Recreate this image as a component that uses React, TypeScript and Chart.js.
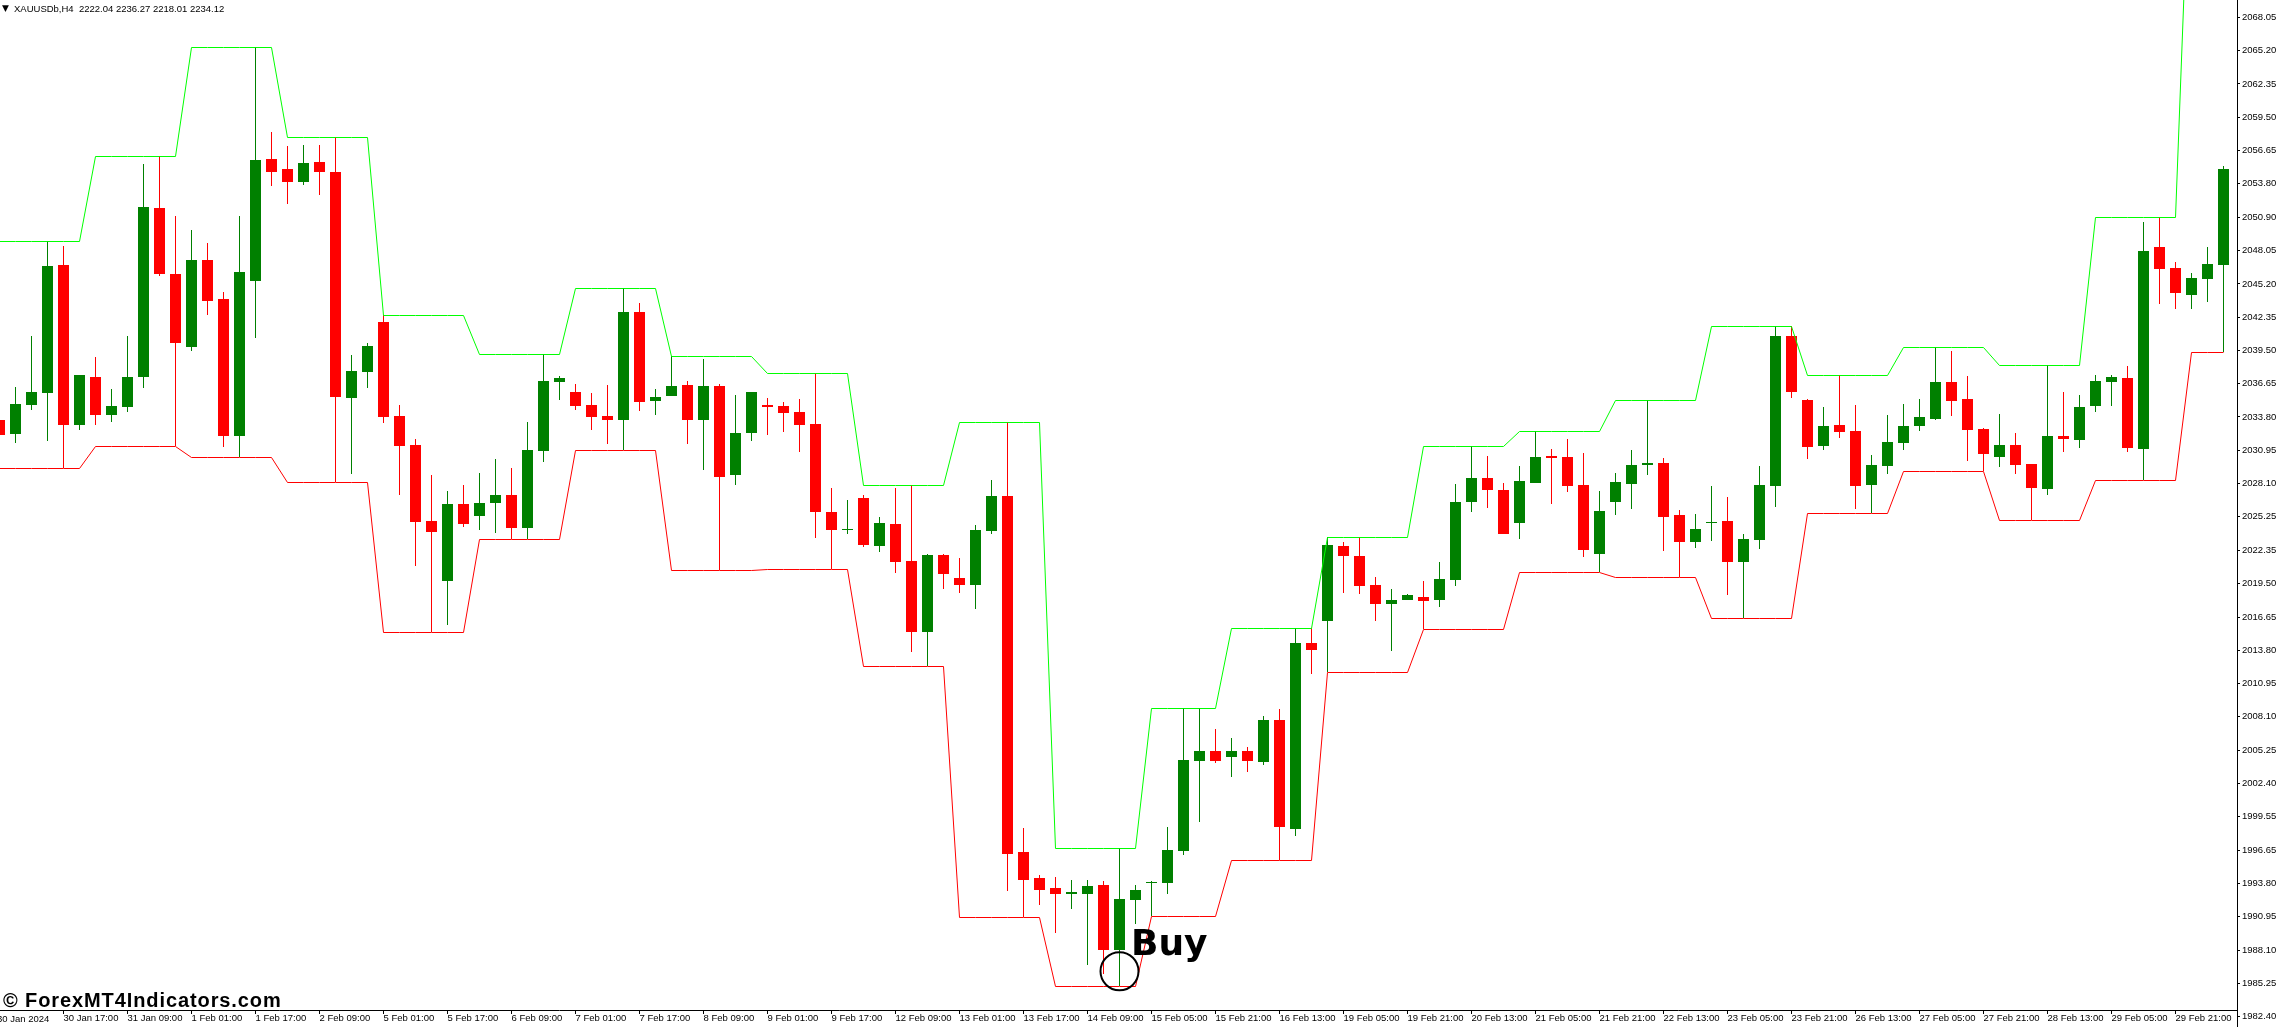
import React, { useEffect, useRef } from "react";
import { Chart, registerables } from "chart.js";

Chart.register(...registerables);

const opens = [
  2033.54, 2032.34, 2034.83, 2035.85, 2046.83, 2033.11, 2037.23, 2033.97, 2034.65, 2037.23,
  2051.71, 2046.05, 2039.80, 2047.25, 2043.91, 2032.17, 2045.45, 2055.91, 2055.05, 2053.94,
  2055.65, 2054.80, 2035.43, 2037.65, 2041.94, 2033.88, 2031.40, 2024.88, 2019.74, 2026.34,
  2025.31, 2026.43, 2027.11, 2024.28, 2030.88, 2036.80, 2035.94, 2034.83, 2033.88, 2033.54,
  2042.80, 2035.17, 2035.60, 2036.54, 2033.54, 2036.45, 2028.83, 2032.43, 2034.83, 2034.74,
  2034.23, 2033.20, 2025.65, 2024.11, 2026.85, 2022.74, 2024.63, 2021.45, 2015.37, 2021.97,
  2020.00, 2019.40, 2024.03, 2027.03, 1996.51, 1994.28, 1993.43, 1992.91, 1992.91, 1993.68,
  1988.11, 1992.40, 1993.85, 1993.85, 1996.60, 2004.31, 2005.17, 2004.65, 2005.17, 2004.23,
  2007.83, 1998.48, 2014.43, 2016.31, 2022.74, 2021.88, 2019.40, 2017.77, 2018.11, 2018.37,
  2018.11, 2019.83, 2026.51, 2028.57, 2027.54, 2024.71, 2028.14, 2030.45, 2030.37, 2027.97,
  2022.05, 2026.51, 2028.05, 2029.68, 2029.85, 2025.40, 2023.08, 2024.71, 2024.88, 2021.37,
  2023.25, 2027.88, 2040.74, 2035.25, 2031.31, 2033.11, 2032.60, 2027.97, 2029.60, 2031.57,
  2033.03, 2033.63, 2036.80, 2035.34, 2032.77, 2030.37, 2031.40, 2029.77, 2027.63, 2032.17,
  2031.83, 2034.74, 2036.80, 2037.14, 2031.05, 2048.37, 2046.57, 2044.25, 2045.63, 2046.83,
];

const closes = [
  2032.25, 2034.91, 2035.94, 2046.74, 2033.11, 2037.40, 2033.97, 2034.74, 2037.23, 2051.80,
  2046.05, 2040.14, 2047.25, 2043.74, 2032.17, 2046.23, 2055.83, 2054.80, 2053.94, 2055.57,
  2054.80, 2035.51, 2037.74, 2039.88, 2033.80, 2031.31, 2024.80, 2023.94, 2026.34, 2024.63,
  2026.43, 2027.11, 2024.28, 2030.97, 2036.88, 2037.14, 2034.74, 2033.80, 2033.54, 2042.80,
  2035.08, 2035.51, 2036.45, 2033.54, 2036.45, 2028.65, 2032.43, 2035.94, 2034.65, 2034.14,
  2033.11, 2025.65, 2024.11, 2024.23, 2022.85, 2024.71, 2021.37, 2015.37, 2021.97, 2020.34,
  2019.40, 2024.11, 2027.03, 1996.34, 1994.11, 1993.25, 1992.91, 1993.08, 1993.60, 1988.11,
  1992.48, 1993.25, 1993.97, 1996.68, 2004.40, 2005.17, 2004.31, 2005.17, 2004.31, 2007.83,
  1998.65, 2014.43, 2013.83, 2022.83, 2021.88, 2019.31, 2017.77, 2018.11, 2018.54, 2018.03,
  2019.91, 2026.51, 2028.57, 2027.54, 2023.77, 2028.31, 2030.37, 2030.28, 2027.88, 2022.40,
  2025.74, 2028.23, 2029.68, 2029.85, 2025.23, 2023.08, 2024.20, 2024.80, 2021.37, 2023.34,
  2027.97, 2040.74, 2035.94, 2031.23, 2033.03, 2032.51, 2027.88, 2029.68, 2031.65, 2033.03,
  2033.80, 2036.80, 2035.17, 2032.68, 2030.63, 2031.40, 2029.68, 2027.71, 2032.17, 2031.91,
  2034.65, 2036.88, 2037.23, 2031.14, 2048.03, 2046.48, 2044.43, 2045.71, 2046.91, 2055.05,
];

const highs = [
  2034.25, 2036.37, 2040.74, 2048.85, 2048.45, 2037.40, 2038.94, 2036.20, 2040.74, 2055.48,
  2056.14, 2051.03, 2049.83, 2048.71, 2044.51, 2051.03, 2065.48, 2058.23, 2057.03, 2057.11,
  2057.11, 2057.77, 2039.11, 2040.14, 2042.51, 2034.83, 2031.91, 2028.83, 2027.45, 2027.97,
  2029.00, 2030.20, 2029.43, 2033.37, 2039.17, 2037.31, 2036.63, 2035.85, 2036.54, 2044.83,
  2043.57, 2036.20, 2039.00, 2036.88, 2038.77, 2036.63, 2035.68, 2035.94, 2035.43, 2035.08,
  2035.34, 2037.54, 2027.71, 2026.68, 2027.11, 2025.23, 2027.71, 2027.94, 2022.05, 2022.05,
  2021.71, 2024.54, 2028.40, 2033.34, 1998.57, 1994.54, 1994.37, 1994.11, 1994.11, 1994.03,
  1996.83, 1993.68, 1994.03, 1998.65, 2008.83, 2008.83, 2007.05, 2006.28, 2005.51, 2008.17,
  2008.77, 2015.68, 2015.68, 2023.48, 2023.08, 2023.48, 2020.08, 2019.05, 2018.63, 2019.74,
  2021.37, 2028.05, 2031.28, 2030.45, 2028.14, 2029.60, 2032.57, 2031.05, 2031.91, 2030.71,
  2027.45, 2029.00, 2030.97, 2035.25, 2030.28, 2025.83, 2025.48, 2027.88, 2026.94, 2023.77,
  2029.60, 2041.57, 2041.57, 2035.34, 2034.65, 2037.37, 2034.83, 2030.54, 2033.97, 2034.91,
  2035.34, 2039.77, 2039.45, 2037.31, 2032.85, 2034.05, 2032.43, 2029.77, 2038.23, 2035.94,
  2035.68, 2037.40, 2037.40, 2038.17, 2050.51, 2050.91, 2047.08, 2046.14, 2048.37, 2055.31,
];

const lows = [
  2031.54, 2031.57, 2034.40, 2031.74, 2029.40, 2032.68, 2033.11, 2033.37, 2034.23, 2036.28,
  2045.88, 2031.28, 2039.45, 2042.54, 2031.23, 2030.34, 2040.57, 2053.60, 2052.05, 2053.68,
  2052.83, 2028.20, 2028.91, 2036.28, 2033.28, 2027.11, 2021.03, 2015.34, 2015.97, 2024.37,
  2024.11, 2023.85, 2023.31, 2023.31, 2029.94, 2035.25, 2034.40, 2032.68, 2031.48, 2030.94,
  2034.31, 2033.97, 2035.60, 2031.48, 2029.25, 2020.65, 2027.97, 2031.74, 2032.25, 2032.51,
  2030.80, 2023.43, 2020.74, 2023.80, 2022.65, 2022.23, 2020.43, 2013.65, 2012.43, 2019.05,
  2018.71, 2017.34, 2023.77, 1993.17, 1990.91, 1991.97, 1989.57, 1991.63, 1986.83, 1986.08,
  1985.00, 1990.34, 1991.00, 1992.91, 1996.25, 1999.08, 2004.14, 2002.94, 2003.37, 2003.97,
  1995.80, 1997.88, 2011.77, 2011.91, 2018.71, 2018.63, 2016.31, 2013.74, 2018.11, 2015.60,
  2017.51, 2019.31, 2025.65, 2026.00, 2023.77, 2023.34, 2028.14, 2026.34, 2027.37, 2021.80,
  2020.48, 2025.40, 2025.91, 2028.83, 2022.31, 2020.05, 2022.57, 2023.17, 2018.54, 2016.54,
  2022.48, 2026.08, 2035.43, 2030.20, 2030.97, 2032.00, 2025.91, 2025.54, 2028.91, 2030.97,
  2032.60, 2033.54, 2033.88, 2030.03, 2029.14, 2029.51, 2028.91, 2024.94, 2027.11, 2030.80,
  2031.14, 2034.23, 2034.74, 2030.80, 2028.37, 2043.48, 2043.05, 2043.05, 2043.65, 2039.34,
];

const upperBand = [
  2048.85, 2048.85, 2048.85, 2048.85, 2048.85, 2048.85, 2056.14, 2056.14, 2056.14, 2056.14,
  2056.14, 2056.14, 2065.48, 2065.48, 2065.48, 2065.48, 2065.48, 2065.48, 2057.77, 2057.77,
  2057.77, 2057.77, 2057.77, 2057.77, 2042.51, 2042.51, 2042.51, 2042.51, 2042.51, 2042.51,
  2039.17, 2039.17, 2039.17, 2039.17, 2039.17, 2039.17, 2044.83, 2044.83, 2044.83, 2044.83,
  2044.83, 2044.83, 2039.00, 2039.00, 2039.00, 2039.00, 2039.00, 2039.00, 2037.54, 2037.54,
  2037.54, 2037.54, 2037.54, 2037.54, 2027.94, 2027.94, 2027.94, 2027.94, 2027.94, 2027.94,
  2033.34, 2033.34, 2033.34, 2033.34, 2033.34, 2033.34, 1996.83, 1996.83, 1996.83, 1996.83,
  1996.83, 1996.83, 2008.83, 2008.83, 2008.83, 2008.83, 2008.83, 2015.68, 2015.68, 2015.68,
  2015.68, 2015.68, 2015.68, 2023.48, 2023.48, 2023.48, 2023.48, 2023.48, 2023.48, 2031.28,
  2031.28, 2031.28, 2031.28, 2031.28, 2031.28, 2032.57, 2032.57, 2032.57, 2032.57, 2032.57,
  2032.57, 2035.25, 2035.25, 2035.25, 2035.25, 2035.25, 2035.25, 2041.57, 2041.57, 2041.57,
  2041.57, 2041.57, 2041.57, 2037.37, 2037.37, 2037.37, 2037.37, 2037.37, 2037.37, 2039.77,
  2039.77, 2039.77, 2039.77, 2039.77, 2039.77, 2038.23, 2038.23, 2038.23, 2038.23, 2038.23,
  2038.23, 2050.91, 2050.91, 2050.91, 2050.91, 2050.91, 2050.91, 2087.00, 2087.00, 2087.00,
];

const lowerBand = [
  2029.40, 2029.40, 2029.40, 2029.40, 2029.40, 2029.40, 2031.28, 2031.28, 2031.28, 2031.28,
  2031.28, 2031.28, 2030.34, 2030.34, 2030.34, 2030.34, 2030.34, 2030.34, 2028.20, 2028.20,
  2028.20, 2028.20, 2028.20, 2028.20, 2015.34, 2015.34, 2015.34, 2015.34, 2015.34, 2015.34,
  2023.31, 2023.31, 2023.31, 2023.31, 2023.31, 2023.31, 2030.94, 2030.94, 2030.94, 2030.94,
  2030.94, 2030.94, 2020.65, 2020.65, 2020.65, 2020.65, 2020.65, 2020.65, 2020.74, 2020.74,
  2020.74, 2020.74, 2020.74, 2020.74, 2012.43, 2012.43, 2012.43, 2012.43, 2012.43, 2012.43,
  1990.91, 1990.91, 1990.91, 1990.91, 1990.91, 1990.91, 1985.00, 1985.00, 1985.00, 1985.00,
  1985.00, 1985.00, 1991.00, 1991.00, 1991.00, 1991.00, 1991.00, 1995.80, 1995.80, 1995.80,
  1995.80, 1995.80, 1995.80, 2011.91, 2011.91, 2011.91, 2011.91, 2011.91, 2011.91, 2015.60,
  2015.60, 2015.60, 2015.60, 2015.60, 2015.60, 2020.48, 2020.48, 2020.48, 2020.48, 2020.48,
  2020.48, 2020.05, 2020.05, 2020.05, 2020.05, 2020.05, 2020.05, 2016.54, 2016.54, 2016.54,
  2016.54, 2016.54, 2016.54, 2025.54, 2025.54, 2025.54, 2025.54, 2025.54, 2025.54, 2029.14,
  2029.14, 2029.14, 2029.14, 2029.14, 2029.14, 2024.94, 2024.94, 2024.94, 2024.94, 2024.94,
  2024.94, 2028.37, 2028.37, 2028.37, 2028.37, 2028.37, 2028.37, 2039.34, 2039.34, 2039.34,
];

const priceTicks = [
  2068.05, 2065.2, 2062.35, 2059.5, 2056.65, 2053.8, 2050.9, 2048.05, 2045.2, 2042.35, 2039.5,
  2036.65, 2033.8, 2030.95, 2028.1, 2025.25, 2022.35, 2019.5, 2016.65, 2013.8, 2010.95, 2008.1,
  2005.25, 2002.4, 1999.55, 1996.65, 1993.8, 1990.95, 1988.1, 1985.25, 1982.4,
];

const timeTickBars = [
  4, 8, 12, 16, 20, 24, 28, 32, 36, 40, 44, 48, 52, 56, 60, 64, 68, 72, 76, 80, 84, 88, 92, 96,
  100, 104, 108, 112, 116, 120, 124, 128, 132, 136,
];

const timeTickLabels = [
  "30 Jan 17:00", "31 Jan 09:00", "1 Feb 01:00", "1 Feb 17:00", "2 Feb 09:00", "5 Feb 01:00",
  "5 Feb 17:00", "6 Feb 09:00", "7 Feb 01:00", "7 Feb 17:00", "8 Feb 09:00", "9 Feb 01:00",
  "9 Feb 17:00", "12 Feb 09:00", "13 Feb 01:00", "13 Feb 17:00", "14 Feb 09:00", "15 Feb 05:00",
  "15 Feb 21:00", "16 Feb 13:00", "19 Feb 05:00", "19 Feb 21:00", "20 Feb 13:00", "21 Feb 05:00",
  "21 Feb 21:00", "22 Feb 13:00", "23 Feb 05:00", "23 Feb 21:00", "26 Feb 13:00", "27 Feb 05:00",
  "27 Feb 21:00", "28 Feb 13:00", "29 Feb 05:00", "29 Feb 21:00",
];

const signalBar = 70;
const signalPrice = 1986.29;

const UP = "#008000";
const DOWN = "#ff0000";
const TICK_FONT = "'Liberation Sans', sans-serif";

const barColors = opens.map((o, i) => (closes[i] >= o ? UP : DOWN));

// an axis placed by value still pushes the chart area in, so drop its padding
const noPadding = (scale: any) => {
  scale.paddingLeft = 0;
  scale.paddingRight = 0;
  scale.paddingTop = 0;
  scale.paddingBottom = 0;
};

// the terminal draws on whole pixels, so snap what the scales gave us
const pixelSnap = {
  id: "pixelSnap",
  afterDatasetsUpdate(chart: Chart) {
    chart.getSortedVisibleDatasetMetas().forEach((meta: any) => {
      if (meta.type === "bar") {
        meta.data.forEach((bar: any) => {
          bar.y = Math.round(bar.y);
          bar.base = Math.round(bar.base);
          if (bar.y === bar.base) bar.base += 1;
        });
      } else if (meta.type === "line") {
        meta.data.forEach((pt: any) => {
          pt.y = Math.floor(pt.y) + 0.5;
        });
      }
    });
  },
};

// labels that sit on the picture, not on an axis
const overlayText = {
  id: "overlayText",
  afterDraw(chart: Chart) {
    const { ctx } = chart;
    ctx.save();
    ctx.fillStyle = "#000";
    ctx.textBaseline = "alphabetic";
    ctx.font = `9.5px ${TICK_FONT}`;
    ctx.fillText("XAUUSDb,H4  2222.04 2236.27 2218.01 2234.12", 14, 12);
    ctx.font = "9px 'DejaVu Sans'";
    ctx.fillText("▼", 2, 11);
    ctx.font = "bold 20px 'Liberation Sans'";
    (ctx as any).letterSpacing = "0.9px";
    ctx.fillText("© ForexMT4Indicators.com", 3, 1007);
    (ctx as any).letterSpacing = "0px";
    ctx.font = "bold 36px 'DejaVu Sans'";
    ctx.fillText("Buy", 1131, 955);
    // first date label hangs off the left edge
    ctx.font = `9.5px ${TICK_FONT}`;
    ctx.textBaseline = "middle";
    ctx.fillText("30 Jan 2024", -3, 1019);
    ctx.restore();
  },
};

export default function App() {
  const canvasRef = useRef<HTMLCanvasElement | null>(null);

  useEffect(() => {
    document.body.style.margin = "0";
    if (!canvasRef.current) return;

    const chart = new Chart(canvasRef.current, {
      type: "bar",
      data: {
        datasets: [
          {
            type: "scatter",
            label: "Signal",
            data: [{ x: signalBar, y: signalPrice }],
            pointRadius: 19,
            pointBorderWidth: 2,
            pointBorderColor: "#000",
            pointBackgroundColor: "transparent",
            order: 0,
          },
          {
            type: "line",
            label: "Upper band",
            data: upperBand.map((y, x) => ({ x, y })),
            borderColor: "#00ff00",
            borderWidth: 1,
            pointRadius: 0,
            order: 1,
          },
          {
            type: "line",
            label: "Lower band",
            data: lowerBand.map((y, x) => ({ x, y })),
            borderColor: "#ff0000",
            borderWidth: 1,
            pointRadius: 0,
            order: 1,
          },
          {
            type: "bar",
            label: "Body",
            data: opens.map((o, x) => ({ x, y: [o, closes[x]] })),
            backgroundColor: barColors,
            barThickness: 11,
            grouped: false,
            inflateAmount: 0,
            order: 2,
          },
          {
            type: "bar",
            label: "Range",
            data: lows.map((l, x) => ({ x, y: [l, highs[x]] })),
            backgroundColor: barColors,
            barThickness: 1,
            grouped: false,
            inflateAmount: 0,
            order: 3,
          },
        ],
      } as any,
      options: {
        responsive: false,
        animation: false,
        devicePixelRatio: 1,
        layout: { padding: 0, autoPadding: false },
        plugins: {
          legend: { display: false },
          tooltip: { enabled: false },
        },
        scales: {
          x: {
            type: "linear",
            bounds: "data",
            offset: false,
            min: 0.03125,
            max: 139.84375,
            position: { y: 1982.94 } as any,
            afterBuildTicks: (scale) => {
              scale.ticks = timeTickBars.map((value) => ({ value }));
            },
            afterFit: noPadding,
            grid: { offset: false, drawOnChartArea: false, drawTicks: true, tickLength: 3, color: "#000" },
            border: { display: true, color: "#000" },
            ticks: {
              autoSkip: false,
              maxRotation: 0,
              minRotation: 0,
              align: "start",
              padding: -1,
              color: "#000",
              font: { family: TICK_FONT, size: 9.5 },
              callback: (value) => timeTickLabels[timeTickBars.indexOf(Number(value))],
            },
          },
          y: {
            type: "linear",
            position: "right",
            bounds: "data",
            min: 1981.51,
            max: 2069.54,
            afterBuildTicks: (scale) => {
              scale.ticks = priceTicks.map((value) => ({ value }));
            },
            afterFit: (scale) => {
              noPadding(scale);
              scale.width = 42;
            },
            grid: { drawOnChartArea: false, drawTicks: true, tickLength: 3, color: "#000" },
            border: { display: true, color: "#000" },
            ticks: {
              autoSkip: false,
              padding: 2,
              color: "#000",
              font: { family: TICK_FONT, size: 9.5 },
              callback: (value) => Number(value).toFixed(2),
            },
          },
        },
      },
      plugins: [pixelSnap, overlayText],
    });

    return () => chart.destroy();
  }, []);

  return (
    <div style={{ width: 2279, height: 1027, background: "#fff", overflow: "hidden" }}>
      <canvas ref={canvasRef} width={2279} height={1027} style={{ display: "block" }} />
    </div>
  );
}
